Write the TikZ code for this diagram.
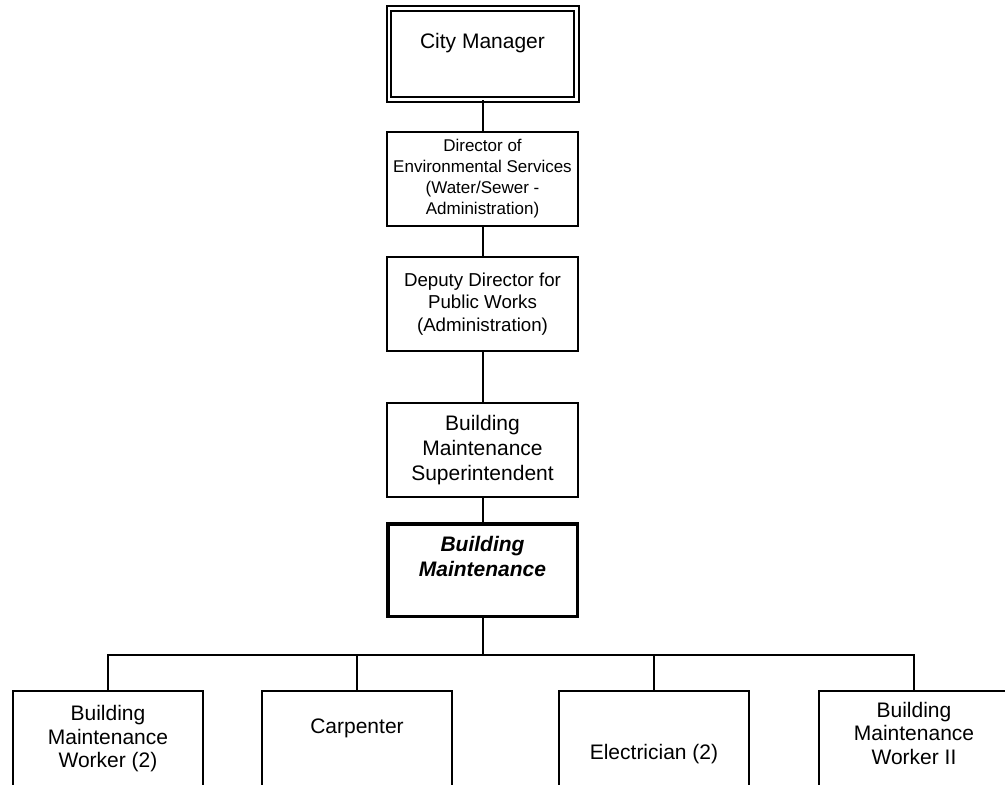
\documentclass[tikz,border=0pt]{standalone}
\usepackage{fontspec}
\setmainfont{Liberation Sans}
\usepackage{xcolor}

\begin{document}
\begin{tikzpicture}[x=1pt, y=-1pt,
    post/.style={draw, line width=2pt, align=center, inner sep=0pt,
        minimum width=191pt, minimum height=94pt,
        font=\fontsize{21}{25}\selectfont},
    staff/.style={post, line width=1.8pt, minimum width=190pt, minimum height=96pt,
        font=\fontsize{21}{23.5}\selectfont},
    wire/.style={line width=2pt}]
    % page frame, the bottom row runs past the lower edge
    \useasboundingbox (0,0) rectangle (1005,785);
    \clip (0,0) rectangle (1005,785);

    % chain of command
    \node[post, double, double distance=2.5pt, minimum width=187.5pt, minimum height=91pt] (manager) at (482.5,53.75) {City Manager\\\mbox{}};
    \node[post, font=\fontsize{17}{21}\selectfont] (director) at (482.5,179) {Director of\\Environmental Services\\(Water/Sewer -\\Administration)};
    \node[post, font=\fontsize{18.7}{22.5}\selectfont] (deputy) at (482.5,304) {Deputy Director for\\Public Works\\(Administration)};
    \node[post] (super) at (482.5,450) {Building\\Maintenance\\Superintendent};
    \node[post, line width=3.5pt, minimum width=189.5pt, minimum height=92.5pt,
        font=\fontsize{21}{25}\selectfont\bfseries\itshape] (maint) at (482.5,570) {Building\\Maintenance\\[2pt]\mbox{}};

    % staff row
    \node[staff] (worker) at (108,739) {Building\\Maintenance\\Worker (2)};
    \node[staff] (carpenter) at (357,739) {Carpenter\\[3pt]\mbox{}};
    \node[staff] (electrician) at (654,739) {\mbox{}\\[22pt]Electrician (2)};
    \node[staff] (workerii) at (914,739) {Building\\Maintenance\\Worker II\\[-11.5pt]\mbox{}};

    % reporting lines
    \draw[wire] (manager) -- (director);
    \draw[wire] (director) -- (deputy);
    \draw[wire] (deputy) -- (super);
    \draw[wire] (super) -- (maint);
    \coordinate (bus) at (482.5,654.5);
    \draw[wire] (maint) -- (bus);
    \draw[wire] (worker) |- (bus) -| (workerii);
    \draw[wire] (carpenter) -- (carpenter |- bus);
    \draw[wire] (electrician) -- (electrician |- bus);
\end{tikzpicture}
\end{document}
